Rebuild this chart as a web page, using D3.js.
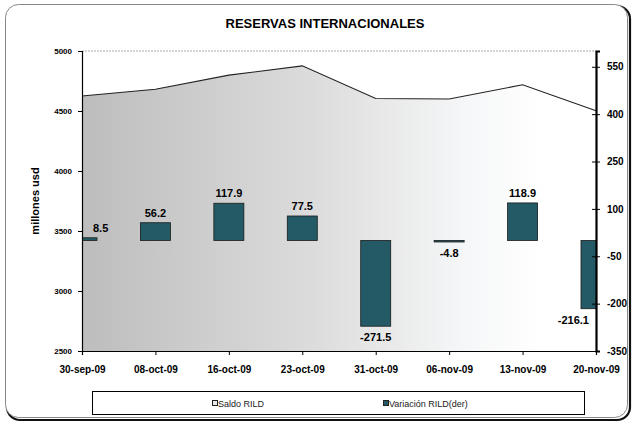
<!DOCTYPE html>
<html><head><meta charset="utf-8">
<script src="https://cdn.jsdelivr.net/npm/d3@7/dist/d3.min.js"></script>
<style>
html,body{margin:0;padding:0;background:#fff;}
svg{display:block;font-family:"Liberation Sans",Arial,sans-serif;}
</style></head>
<body>
<svg id="c" width="636" height="423"></svg>
<script>
const categories = ["30-sep-09","08-oct-09","16-oct-09","23-oct-09","31-oct-09","06-nov-09","13-nov-09","20-nov-09"];
const saldo = [4624.5, 4680.7, 4798.6, 4876.1, 4604.6, 4599.8, 4718.7, 4502.6];
const variacion = [8.5, 56.2, 117.9, 77.5, -271.5, -4.8, 118.9, -216.1];
const leftTicks = [2500, 3000, 3500, 4000, 4500, 5000];
const rightTicks = [-350, -200, -50, 100, 250, 400, 550];
const title = "RESERVAS INTERNACIONALES";
const yTitle = "millones usd";
const legendLabels = ["Saldo RILD", "Variación RILD(der)"];

const svg = d3.select("#c");
const L = 82, R = 596, T = 51, B = 351;
const barColor = "#235a65";

// outer frame with shadow
svg.append("rect").attr("x",7).attr("y",6).attr("width",623).attr("height",414).attr("rx",13)
  .attr("fill","none").attr("stroke","#111").attr("stroke-width",2.2);
svg.append("rect").attr("x",5.5).attr("y",4.5).attr("width",622).attr("height",413).attr("rx",13)
  .attr("fill","#fff").attr("stroke","#888").attr("stroke-width",1);

const x = d3.scalePoint().domain(categories).range([L, R]);
const yL = d3.scaleLinear().domain([2500, 5000]).range([B, T]);
const yR = d3.scaleLinear().domain([-350, 600]).range([B, T]);

const defs = svg.append("defs");
const g = defs.append("linearGradient").attr("id","grad").attr("gradientUnits","userSpaceOnUse")
  .attr("x1",L).attr("x2",R).attr("y1",0).attr("y2",0);
g.append("stop").attr("offset","0%").attr("stop-color","#bdbdbd");
g.append("stop").attr("offset","45%").attr("stop-color","#dcdcdc");
g.append("stop").attr("offset","75%").attr("stop-color","#f6f7f8");
g.append("stop").attr("offset","90%").attr("stop-color","#ffffff");
defs.append("clipPath").attr("id","clip").append("rect").attr("x",L).attr("y",T).attr("width",R-L).attr("height",B-T);

const numFmt = d => String(d);

// title
svg.append("text").attr("x",325).attr("y",28).attr("text-anchor","middle")
  .attr("font-size",13).attr("font-weight","bold").text(title);

// top dashed gridline
svg.append("line").attr("x1",L).attr("x2",R).attr("y1",yL(5000)).attr("y2",yL(5000))
  .attr("stroke","#aaa").attr("stroke-width",1).attr("stroke-dasharray","2,1");

// area
const area = d3.area().x((d,i)=>x(categories[i])).y0(yL(2500)).y1(d=>yL(d));
svg.append("path").datum(saldo).attr("d",area).attr("fill","url(#grad)");
const line = d3.line().x((d,i)=>x(categories[i])).y(d=>yL(d));
svg.append("path").datum(saldo).attr("d",line).attr("fill","none").attr("stroke","#222").attr("stroke-width",1.1);

// bars
const bw = 30;
svg.append("g").attr("clip-path","url(#clip)").selectAll("rect").data(variacion).enter().append("rect")
  .attr("x",(d,i)=>x(categories[i]) - bw/2)
  .attr("y",d=>yR(Math.max(0,d)))
  .attr("width",bw)
  .attr("height",d=>Math.abs(yR(d)-yR(0)))
  .attr("fill",barColor).attr("stroke","#1a1a1a").attr("stroke-width",0.8);

// data labels
svg.append("g").selectAll("text").data(variacion).enter().append("text")
  .attr("x",(d,i)=>{const c=x(categories[i]); if(i===0) return c+11; if(i===categories.length-1) return c-7; return c;})
  .attr("y",d=> d>=0 ? yR(d)-6 : yR(d)+15)
  .attr("text-anchor",(d,i)=> i===0 ? "start" : (i===categories.length-1 ? "end" : "middle"))
  .attr("font-size",11).attr("font-weight","bold").text(d=>d.toFixed(1));

// left axis
const axL = svg.append("g").attr("transform",`translate(${L},0)`)
  .call(d3.axisLeft(yL).tickValues(leftTicks).tickSize(4).tickPadding(6).tickFormat(numFmt));
axL.attr("font-family","Liberation Sans, Arial");
axL.select(".domain").attr("stroke","#000").attr("stroke-width",1.2);
axL.selectAll("text").attr("font-size",8).attr("font-weight","bold");

// bottom axis
const axB = svg.append("g").attr("transform",`translate(0,${B})`)
  .call(d3.axisBottom(x).tickSize(4).tickPadding(11));
axB.attr("font-family","Liberation Sans, Arial");
axB.select(".domain").attr("stroke","#000").attr("stroke-width",1.2);
axB.selectAll("text").attr("font-size",10).attr("font-weight","bold");

// right axis
const axR = svg.append("g").attr("transform",`translate(${R},0)`)
  .call(d3.axisRight(yR).tickValues(rightTicks).tickSize(4).tickPadding(7).tickFormat(numFmt));
axR.attr("font-family","Liberation Sans, Arial");
axR.select(".domain").attr("stroke","#000").attr("stroke-width",2.2);
axR.selectAll(".tick line").attr("x1",-4);
axR.selectAll("text").attr("font-size",10).attr("font-weight","bold");

// y title
svg.append("text").attr("transform","translate(39,201) rotate(-90)").attr("text-anchor","middle")
  .attr("font-size",11).attr("font-weight","bold").text(yTitle);

// legend
const lg = svg.append("g");
lg.append("rect").attr("x",92.5).attr("y",391.5).attr("width",492).attr("height",23)
  .attr("fill","#fff").attr("stroke","#000").attr("stroke-width",1);
const legX = [212, 383];
const legFill = ["#e8e8e8", barColor];
legendLabels.forEach((lab,i)=>{
  lg.append("rect").attr("x",legX[i]+0.5).attr("y",400.5).attr("width",5).attr("height",5)
    .attr("fill",legFill[i]).attr("stroke","#222").attr("stroke-width",1);
  lg.append("text").attr("x",legX[i]+6).attr("y",406.5).attr("font-size",9).attr("fill","#222").text(lab);
});
</script>
</body></html>
